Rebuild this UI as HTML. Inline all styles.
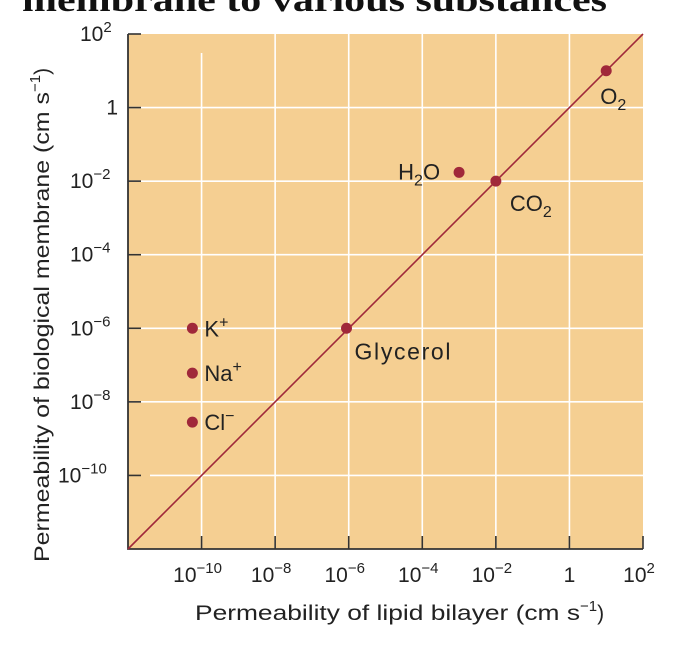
<!DOCTYPE html>
<html><head><meta charset="utf-8"><style>
html,body{margin:0;padding:0;background:#fff;width:692px;height:648px;overflow:hidden}
svg{display:block;font-family:"Liberation Sans","DejaVu Sans",sans-serif}
</style></head><body>
<svg id="chart" width="692" height="648" viewBox="0 0 692 648" xmlns="http://www.w3.org/2000/svg">
<text x="22" y="11" font-family="Liberation Serif,serif" font-weight="bold" font-size="34" fill="#111" textLength="585" lengthAdjust="spacingAndGlyphs">membrane to various substances</text>
<g id="plot"></g>
</svg>
<script>
const names=["O2","CO2","H2O","Glycerol","K+","Na+","Cl-"];
const xLog=[1,-2,-3,-6.06,-10.25,-10.25,-10.25];
const yLog=[1,-2,-1.76,-6,-6,-7.22,-8.55];
const xTicks=[-10,-8,-6,-4,-2,0,2];
const yTicks=[2,0,-2,-4,-6,-8,-10];
const L=128,R=643,T=34,B=549,MIN=-12,MAX=2;
const sx=v=>L+(v-MIN)/(MAX-MIN)*(R-L);
const sy=v=>B-(v-MIN)/(MAX-MIN)*(B-T);
const NS="http://www.w3.org/2000/svg";
const g=document.getElementById('plot');
function mk(tag,at,parent){const e=document.createElementNS(NS,tag);for(const k in at)e.setAttribute(k,at[k]);(parent||g).appendChild(e);return e;}
function lab(x,y,base,exp,anchor,size){
  const t=mk('text',{x:x,y:y,'text-anchor':anchor||'middle','font-size':size||21,fill:'#222'});
  t.appendChild(document.createTextNode(base));
  if(exp!==null){const s=document.createElementNS(NS,'tspan');s.setAttribute('dy','-9');s.setAttribute('font-size','15');s.textContent=exp;t.appendChild(s);}
  return t;}
let e=mk('rect',{x:L,y:T,width:R-L,height:B-T,fill:'#F5CF92'});


xTicks.forEach((v,i)=>{const x=sx(v);
  if(v<2){e=mk('line',{x1:x,x2:x,y1:(v==-10?53:T),y2:B,stroke:'#fff','stroke-width':1.6});
  
  }
  e=mk('line',{x1:x,x2:x,y1:B-13,y2:B,stroke:'#333','stroke-width':1.6});
  
  
  e=v===0?lab(x,582,'1',null):lab(x-4,582,'10',v<0?'−'+(-v):String(v));
  
  
});
yTicks.forEach(v=>{const y=sy(v);
  if(v<2){e=mk('line',{x1:(v==-10?150:L),x2:R,y1:y,y2:y,stroke:'#fff','stroke-width':1.6});
  
  }
  e=mk('line',{x1:L,x2:L+13,y1:y,y2:y,stroke:'#333','stroke-width':1.6});
  
  
  e=v===0?lab(118,y+7,'1',null,'end'):lab(v<=-10?96:(v<0?99:104),y+7,'10',v<0?'−'+(-v):String(v),'end');
  if(v!==0){e.setAttribute('text-anchor','start');e.setAttribute('x',v<=-10?58:(v<0?70:80));}
  
  
});
e=mk('polyline',{points:`${L},${T} ${L},${B} ${R},${B}`,fill:'none',stroke:'#333','stroke-width':1.8});


e=mk('line',{x1:sx(MIN),y1:sy(MIN),x2:sx(MAX),y2:sy(MAX),stroke:'#A0283A','stroke-width':1.6});


const offs={"O2":[-6,33,'start'],"CO2":[14,30,'start'],"H2O":[-19,7,'end'],"Glycerol":[8,31,'start'],"K+":[12,8,'start'],"Na+":[12,8,'start'],"Cl-":[12,8,'start']};
const disp={"O2":["O","2"],"CO2":["CO","2"],"H2O":["H","2","O"],"Glycerol":["Glycerol"],"K+":["K","+"],"Na+":["Na","+"],"Cl-":["Cl","−"]};
names.forEach((n,i)=>{const x=sx(xLog[i]),y=sy(yLog[i]);
  e=mk('circle',{cx:x,cy:y,r:5.5,fill:'#A0283A'});
  
  
  const o=offs[n],d=disp[n];
  const t=mk('text',{x:x+o[0],y:y+o[1],'text-anchor':o[2],'font-size':22,fill:'#222'});
  if(n==='Glycerol'){t.setAttribute('textLength','96');t.setAttribute('font-size','23');}
  
  
  t.appendChild(document.createTextNode(d[0]));
  if(d[1]){const s=document.createElementNS(NS,'tspan');const sub=(n!=='K+'&&n!=='Na+'&&n!=='Cl-');
    s.setAttribute('dy',sub?'6':'-9');s.setAttribute('font-size','16');s.textContent=d[1];t.appendChild(s);
    if(d[2]){const s2=document.createElementNS(NS,'tspan');s2.setAttribute('dy','-6');s2.textContent=d[2];t.appendChild(s2);}}
});
e=mk('text',{x:195,y:620,'font-size':21,fill:'#222'});


e.innerHTML='<tspan textLength="385" lengthAdjust="spacingAndGlyphs">Permeability of lipid bilayer (cm s</tspan><tspan dy="-9" font-size="15">−1</tspan><tspan dy="9">)</tspan>';
e=mk('text',{x:0,y:0,'font-size':21,fill:'#222',transform:'translate(49,562) rotate(-90)'});


e.innerHTML='<tspan textLength="470" lengthAdjust="spacingAndGlyphs">Permeability of biological membrane (cm s</tspan><tspan dy="-9" font-size="15">−1</tspan><tspan dy="9">)</tspan>';
</script>
</body></html>
